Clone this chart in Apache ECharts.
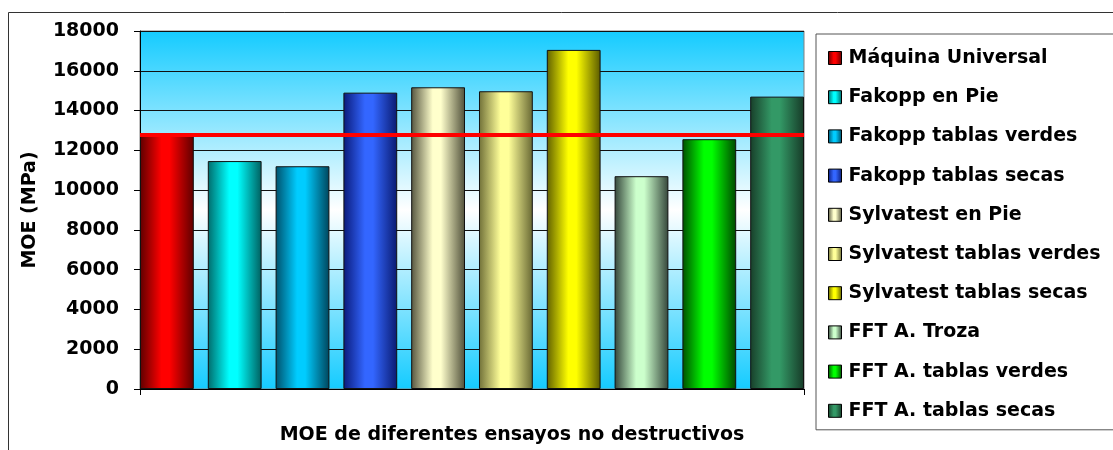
<!DOCTYPE html>
<html>
<head>
<meta charset="utf-8">
<script src="https://cdn.jsdelivr.net/npm/echarts@6/dist/echarts.min.js"></script>
<style>
  html, body { margin: 0; padding: 0; background: #fff; }
  #moe { width: 1113px; height: 450px; }
</style>
</head>
<body>
<div id="moe"></div>
<script>
// datos
const ensayos = [
    'Máquina Universal',
    'Fakopp en Pie',
    'Fakopp tablas verdes',
    'Fakopp tablas secas',
    'Sylvatest en Pie',
    'Sylvatest tablas verdes',
    'Sylvatest tablas secas',
    'FFT A. Troza',
    'FFT A. tablas verdes',
    'FFT A. tablas secas'
];
const valoresMOE = [12800, 11460, 11200, 14900, 15170, 14970, 17050, 10700, 12560, 14700];
const lineaMaquina = 12800;
const categoria = ['MOE de diferentes ensayos no destructivos'];

// colores: [borde oscuro, centro claro, borde oscuro]
const coloresBarra = [
    ['#5e0000', '#ff0000', '#5e0000'],
    ['#006b6b', '#00ffff', '#005f5f'],
    ['#00506b', '#00ccff', '#00455c'],
    ['#0a1a7a', '#3366ff', '#0a1a70'],
    ['#55553f', '#ffffcc', '#50503a'],
    ['#707038', '#ffff99', '#676733'],
    ['#606000', '#ffff00', '#5a5a00'],
    ['#34453a', '#ccffcc', '#34453a'],
    ['#004f00', '#00ff00', '#004800'],
    ['#183f2a', '#339966', '#163a27']
];

const fuente = 'DejaVu Sans';

function degradado(c) {
    return {
        type: 'linear', x: 0, y: 0, x2: 1, y2: 0,
        colorStops: [
            { offset: 0, color: c[0] },
            { offset: 0.4, color: c[1] },
            { offset: 0.55, color: c[1] },
            { offset: 1, color: c[2] }
        ]
    };
}

let chartMOE = echarts.init(document.getElementById('moe'));

const series = ensayos.map((nombre, i) => {
    const s = {
        name: nombre,
        type: 'bar',
        data: [valoresMOE[i]],
        barGap: '26%',
        barCategoryGap: '0%',
        itemStyle: {
            color: degradado(coloresBarra[i]),
            borderColor: '#111',
            borderWidth: 1
        }
    };
    if (i === 0) {
        s.markLine = {
            silent: true,
            symbol: 'none',
            label: { show: false },
            lineStyle: { color: '#ff0000', width: 4, type: 'solid' },
            data: [{ yAxis: lineaMaquina }]
        };
    }
    return s;
});

const option = {
    animation: false,
    textStyle: { fontFamily: fuente },
    graphic: [{
        type: 'rect',
        shape: { x: 8.5, y: 12.5, width: 1200, height: 600 },
        style: { fill: 'none', stroke: '#333', lineWidth: 1 },
        z: -1
    }],
    legend: {
        orient: 'vertical',
        left: 816,
        top: 34,
        padding: [14, 40, 9, 12],
        itemGap: 19.2,
        itemWidth: 13,
        itemHeight: 13,
        icon: 'rect',
        borderColor: '#555',
        borderWidth: 1,
        backgroundColor: '#fff',
        itemStyle: { borderColor: '#000', borderWidth: 1 },
        textStyle: {
            fontFamily: fuente,
            fontWeight: 'bold',
            fontSize: 19,
            lineHeight: 20,
            color: '#000',
            padding: [0, 0, 0, 2]
        },
        data: ensayos
    },
    grid: {
        left: 140,
        top: 31,
        width: 664,
        height: 364,
        show: true,
        borderColor: '#808080',
        borderWidth: 1,
        backgroundColor: {
            type: 'linear', x: 0, y: 0, x2: 0, y2: 1,
            colorStops: [
                { offset: 0, color: '#14cbff' },
                { offset: 0.5, color: '#ffffff' },
                { offset: 1, color: '#14cbff' }
            ]
        }
    },
    xAxis: {
        type: 'category',
        data: categoria,
        name: categoria[0],
        nameLocation: 'middle',
        nameGap: 37,
        nameTextStyle: {
            fontFamily: fuente,
            fontWeight: 'bold',
            fontSize: 19,
            color: '#000',
            padding: [0, 0, 0, 80]
        },
        axisLine: { lineStyle: { color: '#000', width: 1 } },
        axisTick: { show: true, length: 6, lineStyle: { color: '#000' } },
        axisLabel: { show: false }
    },
    yAxis: {
        type: 'value',
        min: 0,
        max: 18000,
        interval: 2000,
        name: 'MOE (MPa)',
        nameLocation: 'middle',
        nameGap: 100,
        nameTextStyle: {
            fontFamily: fuente,
            fontWeight: 'bold',
            fontSize: 19,
            color: '#000'
        },
        axisLine: { show: true, lineStyle: { color: '#000', width: 1 } },
        axisTick: { show: true, length: 6, lineStyle: { color: '#000' } },
        axisLabel: {
            margin: 21,
            fontFamily: fuente,
            fontWeight: 'bold',
            fontSize: 19,
            color: '#000',
            formatter: (v) => String(v)
        },
        splitLine: { lineStyle: { color: '#111', width: 1 } }
    },
    series: series
};

option && chartMOE.setOption(option);
window.addEventListener('resize', chartMOE.resize);
</script>
</body>
</html>
